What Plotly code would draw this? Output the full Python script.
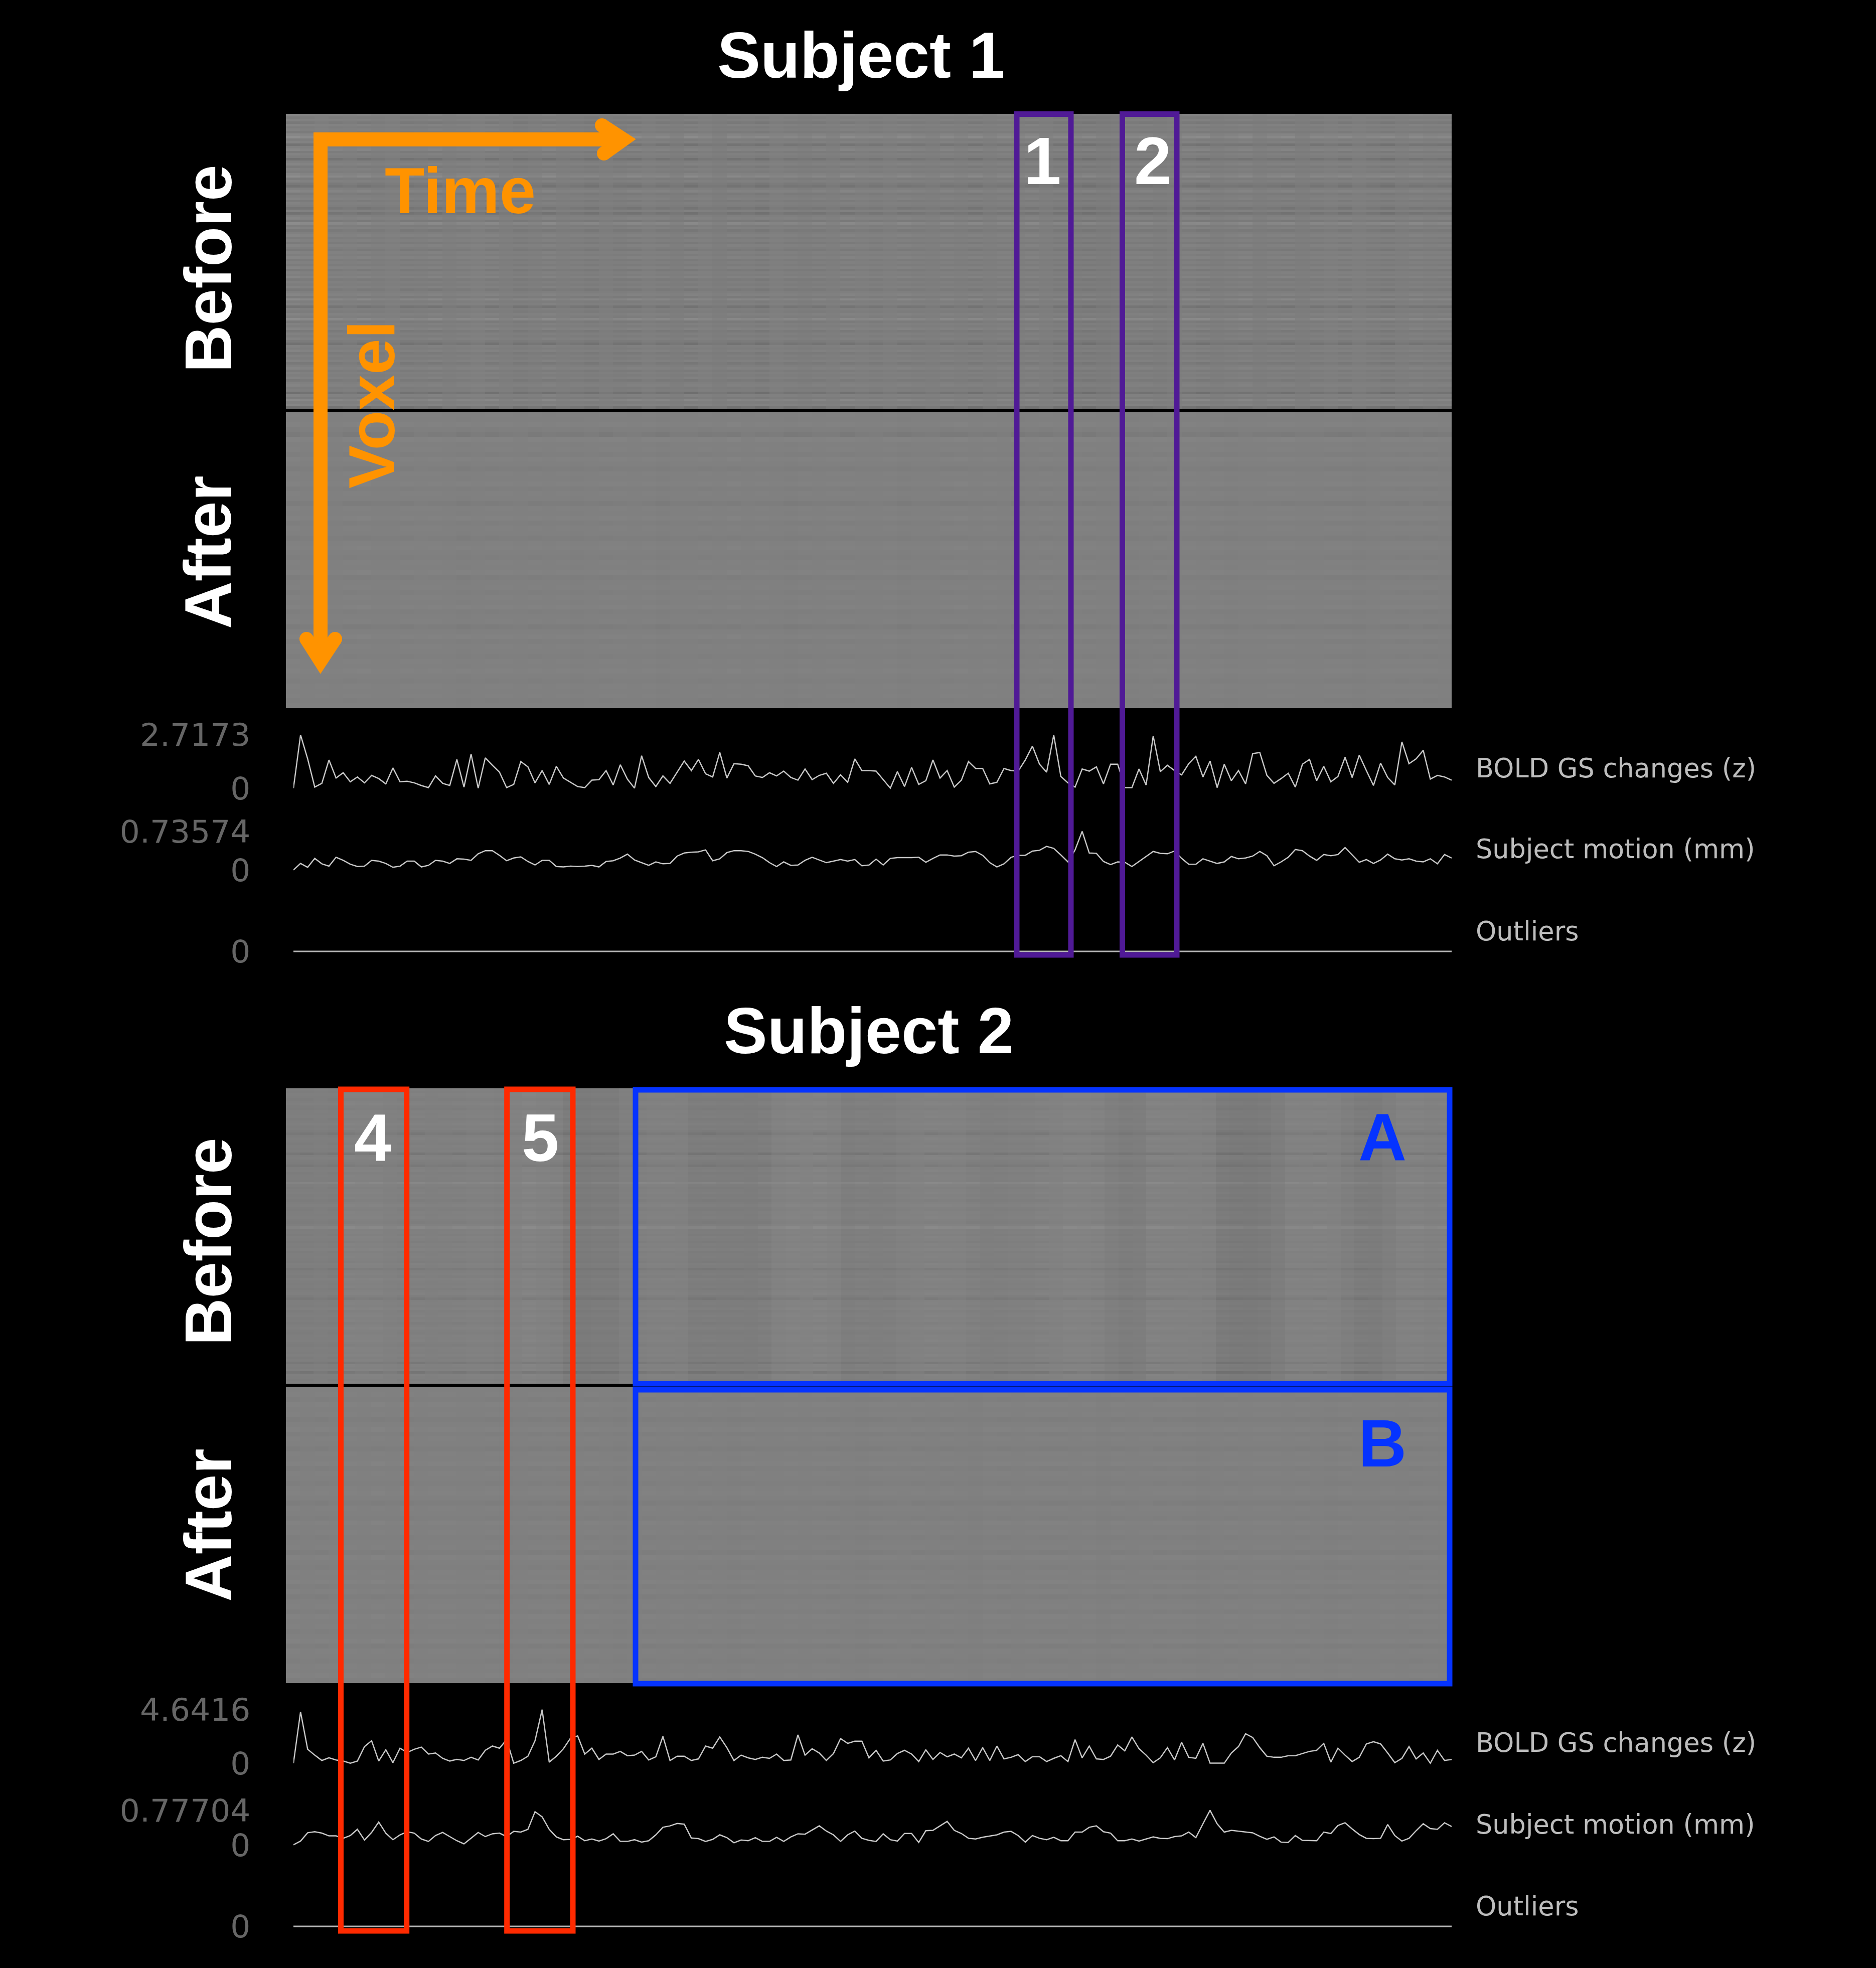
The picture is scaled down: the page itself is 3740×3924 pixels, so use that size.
import plotly.graph_objects as go

W, H = 3740, 3924

# ---- chart data (percent of the panel's peak) ----
gs_s1_max = 2.7173
motion_s1_max = 0.73574
gs_s2_max = 4.6416
motion_s2_max = 0.77704

gs_s1 = [0,100,55,2,9,53,19,29,12,21,10,24,18,8,38,12,13,10,5,1,23,9,5,54,2,64,0,57,43,30,1,7,50,40,10,33,7,41,19,11,3,1,15,16,33,6,44,17,0,61,20,3,23,9,30,51,33,54,27,21,67,19,46,45,42,23,20,29,23,32,20,15,
 36,16,24,28,9,25,11,55,33,33,32,16,0,31,3,39,7,14,53,19,33,2,15,50,37,37,8,11,37,33,32,53,79,45,30,100,22,10,2,36,32,40,8,45,45,1,1,36,6,98,31,43,33,25,46,60,21,51,1,45,14,33,8,65,67,24,9,18,28,2,45,54,14,41,12,22,58,20,62,33,5,47,20,6,87,46,55,71,17,24,21,15]
motion_s1 = [0,17,7,30,16,10,33,25,15,9,10,25,23,17,7,10,23,23,8,12,25,23,17,29,28,25,42,50,50,38,24,31,34,22,13,25,25,9,8,10,9,10,12,8,22,24,31,41,26,19,12,21,16,17,36,44,46,47,52,24,29,45,50,50,48,41,32,19,9,21,12,13,
 25,33,26,19,23,27,23,27,11,13,28,13,30,32,32,32,33,20,30,39,39,36,37,46,48,38,19,8,16,33,38,38,49,51,61,56,39,21,52,100,44,43,22,14,21,20,9,22,34,48,43,42,49,30,15,15,29,23,17,21,35,29,31,36,48,37,11,21,33,53,50,36,25,40,37,40,58,39,20,27,17,26,41,29,26,29,23,21,29,16,40,31]
gs_s2 = [0,96,26,15,5,10,6,4,0,4,31,42,4,25,1,28,20,26,30,17,19,9,4,7,5,11,6,24,32,28,44,0,5,13,42,100,2,13,27,47,51,17,28,7,17,17,22,14,15,22,6,12,50,5,13,13,5,8,32,28,49,29,5,15,10,7,11,9,17,5,6,53,
 15,27,19,5,18,46,37,41,41,10,24,4,6,18,24,17,3,25,7,20,12,17,10,28,5,29,5,32,8,11,16,3,12,12,3,9,14,3,44,10,32,8,7,13,34,23,49,27,15,1,10,29,6,39,11,9,37,0,0,0,19,31,55,48,29,13,11,11,14,14,18,22,24,37,2,28,15,3,11,36,40,36,19,1,9,31,8,19,0,24,5,7]
motion_s2 = [0,11,35,38,34,26,26,19,27,45,14,36,66,34,15,29,38,34,17,10,27,36,24,12,3,19,36,24,32,34,24,39,37,45,96,81,45,23,15,16,25,12,17,11,18,32,10,10,15,8,12,29,51,55,62,60,20,18,10,16,29,21,6,14,12,21,10,10,22,10,23,32,
 31,43,55,40,29,10,29,40,19,13,10,32,15,11,33,33,7,41,42,55,68,42,33,19,17,22,26,29,37,39,27,8,27,19,15,22,12,12,37,37,51,55,38,34,12,12,17,11,17,23,19,18,24,26,37,21,61,100,61,37,42,40,38,35,25,16,23,8,7,27,13,12,12,37,33,56,64,46,30,19,18,19,59,27,11,19,41,61,47,45,64,53]
outliers_s1 = [0] * len(gs_s1)
outliers_s2 = [0] * len(gs_s2)

gs_tick_s1 = ["0", "2.7173"]
motion_tick_s1 = ["0", "0.73574"]
gs_tick_s2 = ["0", "4.6416"]
motion_tick_s2 = ["0", "0.77704"]
trace_labels = ["BOLD GS changes (z)", "Subject motion (mm)", "Outliers"]

# ---- carpet gray levels: estimated along rows, along time bins, and the row contrast of each time bin ----
s1_before_center, s1_before_level, s1_before_gain = 124, 126, 0.62
s1_before_rows = [130,120,127,117,129,121,126,119,132,140,122,128,110,125,131,119,127,122,108,124,129,118,126,121,130,139,120,127,116,109,125,131,118,124,128,119,126,122,112,127,109,125,130,117,137,121,128,116,124,129,120,126,118,128,123,116,127,122,129,119,
 125,120,128,117,126,123,130,118,125,121,127,116,124,129,119,136,122,127,110,124,120,128,123,138,118,126,122,129,117,125,121,127,119,108,126,122,128,118,125,121,127,116,124,129,119,126,122,127,117,125,128,120,123,106,127,119,135,124,130,107]
s1_before_cols = [2,1,2,1,1,1,0,1,0,0,1,0,1,2,1,0,-1,0,1,0,0,-1,0,-1,0,1,0,-1,0,1,-1,0,0,-1,1,0,-1,0,0,1,1,0,1,1,0,0,1,0,0,0,1,0,1,0,-1,-2,-2,-2,-1,0,0,-1,0,1,0,-1,0,1,-1,0,0,-1,0,1,0,1,0,-1,0,1,0,0]
s1_before_tex = [1.5,1.2,0.6,1.1,0.7,1.3,0.8,0.5,1.2,0.9,1.4,0.6,1.0,0.7,1.3,0.5,1.1,0.8,1.4,0.6,0.9,1.2,0.5,1.0,1.3,0.7,1.1,0.6,1.4,0.8,0.5,1.2,0.9,1.3,0.6,1.0,0.7,1.1,0.5,1.3,0.8,1.0,0.6,1.2,0.9,0.5,1.1,0.7,1.3,0.6,1.0,0.8,1.2,0.5,1.1,0.9,1.3,0.7,0.6,1.0,1.2,0.8,0.5,1.1,1.4,0.7,0.9,1.2,0.6,1.0,1.3,0.5,1.1,0.8,1.3,0.6,1.0,1.4,0.7,1.2,0.9,1.1]
s1_after_center, s1_after_level, s1_after_gain = 127, 127.5, 1.0
s1_after_rows = [128,127,129,126,122,130,127,128,126,129,127,125,128,127,129,126,128,127,124,128,127,129,126,128,127,125,128,129,127,126,128,127,129,125,127,128,126,128,127,129,126,127,128,124,127,129,126,128,127,126,128,127,129,127,126,128,127,128,126,127]
s1_after_cols = [0,0,0.5,0,0,0.5,0,0,0,0.5,0,0,-0.5,0,0,0.5,0,0,0,0,-0.5,0,0,0.5,0,0,-0.5,0,0,0,0,0.5,0,0,0,-0.5,0,0,0.5,0,0,0,0,-0.5,0,0,0,0.5,0,0,0,-0.5,0,0,0,0.5,0,0,0,-0.5,0,0,0.5,0,0,0,-0.5,0,0,0,0.5,0,0,0,0,-0.5,0,0,0,0.5,0,0]
s1_after_tex = [1.2,0.8,1.0,0.6,1.1,1.3,0.7,0.9,1.2,0.6,1.0,0.8,1.3,0.7,1.1,0.9,0.6,1.2,0.8,1.0,1.1,0.7,1.3,0.9,0.6,1.0,1.2,0.8,0.7,1.1,0.9,1.3,0.6,1.0,0.8,1.2,1.1,0.7,0.9,1.3,0.8,0.6,1.0,1.2,0.9,0.7,1.1,1.3,0.8,1.0,0.6,1.2,0.9,1.1,0.7,1.0,1.3,0.8,0.6,1.1,0.9,1.2,0.7,1.0,0.8,1.3,1.1,0.6,0.9,1.0,1.2,0.7,0.8,1.1,1.3,0.9,0.6,1.0,1.2,0.8,1.1,0.9]
s2_before_center, s2_before_level, s2_before_gain = 125, 127, 0.65
s2_before_rows = [127,125,128,126,124,127,129,125,123,127,126,128,124,126,129,125,127,123,116,125,128,126,124,127,125,126,114,127,129,125,123,117,126,128,124,127,126,125,135,127,124,126,128,125,127,123,126,129,125,124,127,126,128,125,123,127,136,125,126,124,
 128,126,123,127,125,129,124,126,127,125,123,128,126,118,125,127,124,129,126,125,127,123,126,128,124,117,126,127,125,129,124,126,128,125,127,123,126,129,125,124,127,126,128,125,123,127,126,125,128,124,126,116,127,125,129,113,128,126,124,127]
s2_before_cols = [-2,-2,-1,-2,2,2,2,1,0,0,0,0,0,1,1,0,2,3,2,1,-4,-5,-4,-4,0,0,1,1,1,-3,-3,-3,-3,-3,-2,2,3,3,3,2,-2,-1,-1,-1,1,2,2,2,2,0,-1,-1,0,0,1,2,3,3,2,-1,-3,-2,2,2,2,2,1,-5,-6,-6,-5,-2,2,2,2,2,-1,-4,-4,-1,2,2,1,1]
s2_before_tex = [0.9,1.1,0.7,1.0,1.2,0.8,1.1,0.6,1.0,1.3,0.7,0.9,1.2,0.8,1.1,1.0,0.6,1.3,0.9,1.2,1.3,0.8,1.1,1.0,0.7,1.2,0.9,1.0,0.6,1.1,1.3,0.8,1.0,0.7,1.2,0.9,1.1,0.6,1.3,0.8,1.0,1.2,0.7,1.1,0.9,0.6,1.3,1.0,0.8,1.2,0.7,1.1,0.9,1.0,1.3,0.6,1.1,0.8,1.2,0.9,1.0,0.7,1.3,1.1,0.8,0.6,1.0,1.3,1.2,0.9,1.1,0.7,1.0,0.8,1.2,0.6,1.1,1.3,0.9,0.7,1.0,1.2,0.9,1.1]
s2_after_center, s2_after_level, s2_after_gain = 127, 127.5, 1.0
s2_after_rows = [127,128,126,129,127,128,125,127,129,126,128,127,125,128,127,129,126,128,127,126,128,129,127,125,128,127,126,129,127,128,126,127,128,125,129,127,126,128,127,129,126,128,125,127,128,126,129,127,128,126,127,129,125,128,127,126,128,127,129,126]
s2_after_cols = [0,0,0,0.5,0,0,0.5,0,0,0,0,0.5,0,0,0,-0.5,0,0,0.5,0,0,0,0,-0.5,0,0,0,0.5,0,0,0,-0.5,0,0,0,0.5,0,0,0,0,-0.5,0,0,0.5,0,0,0,0,-0.5,0,0,0,0.5,0,0,0,0,-0.5,0,0,0.5,0,0,0,-0.5,0,0,0,0,0.5,0,0,0,-0.5,0,0,0,0.5,0,0,0,0]
s2_after_tex = [1.1,0.8,1.2,0.7,1.0,0.9,1.3,0.6,1.1,0.8,1.0,1.2,0.7,0.9,1.3,1.0,0.6,1.2,0.8,1.1,0.9,1.3,0.7,1.0,0.8,1.2,0.6,1.1,0.9,1.3,0.7,1.0,1.2,0.8,0.6,1.1,0.9,1.0,1.3,0.7,0.8,1.2,1.0,0.6,1.1,0.9,1.3,0.8,0.7,1.0,1.2,0.6,0.9,1.1,1.3,0.8,1.0,0.7,1.2,0.9,0.6,1.1,1.0,1.3,0.8,0.7,1.2,0.9,1.0,1.1,0.6,1.3,0.8,1.0,1.2,0.7,0.9,1.1,0.6,1.3,1.0,0.8]

# ---- page geometry (pixels) ----
def fx(x): return x / W
def fy(y): return 1 - y / H

HM_L, HM_R = 570, 2894
LN_L, LN_R = 585, 2894
TICK_COLOR = "#666666"
LABEL_COLOR = "#bdbdbd"
LINE_COLOR = "#c8c8c8"

fig = go.Figure()
layout = dict(
    width=W, height=H, margin=dict(l=0, r=0, t=0, b=0, autoexpand=False),
    paper_bgcolor="black", plot_bgcolor="black", showlegend=False,
    shapes=[], annotations=[],
)
axis_no = [0]

def new_axes(x0, x1, y0, y1, xr, yr, tickvals=None, ticktext=None, reverse=False):
    axis_no[0] += 1
    n = axis_no[0]
    s = "" if n == 1 else str(n)
    layout["xaxis" + s] = dict(domain=[fx(x0), fx(x1)], range=xr, visible=False, anchor="y" + s)
    ya = dict(domain=[fy(y1), fy(y0)], range=yr[::-1] if reverse else yr, anchor="x" + s,
              showgrid=False, zeroline=False, showline=False)
    if tickvals is None:
        ya["visible"] = False
    else:
        ya.update(tickmode="array", tickvals=tickvals, ticktext=ticktext, ticks="outside",
                  ticklen=72, tickcolor="black", tickwidth=1,
                  tickfont=dict(family="DejaVu Sans", size=63, color=TICK_COLOR))
    layout["yaxis" + s] = ya
    return "x" + s, "y" + s

def carpet(center, level, gain, rows, cols, tex, y0, y1):
    xa, ya = new_axes(HM_L, HM_R, y0, y1, [-0.5, len(cols) - 0.5], [-0.5, len(rows) - 0.5], reverse=True)
    z = [[level + (r - center) * t * gain + c for c, t in zip(cols, tex)] for r in rows]
    fig.add_trace(go.Heatmap(z=z, xaxis=xa, yaxis=ya, zmin=0, zmax=255, showscale=False, hoverinfo="skip",
                             colorscale=[[0, "#000000"], [1, "#ffffff"]]))

def series(pct, peak, y0, y1, ticks):
    # a 5 % head-room on the axis keeps the stroke at 0 and at the peak from being clipped
    pad = 0.05 * (y1 - y0)
    xa, ya = new_axes(LN_L, LN_R, y0 - pad, y1 + pad, [0, len(pct) - 1], [-0.05 * peak, 1.05 * peak], [0, peak], ticks)
    fig.add_trace(go.Scatter(x=list(range(len(pct))), y=[p * peak / 100 for p in pct], mode="lines",
                             xaxis=xa, yaxis=ya, hoverinfo="skip",
                             line=dict(color=LINE_COLOR, width=2.5)))

def outliers(vals, y0, y1):
    pad = 0.1 * (y1 - y0)
    xa, ya = new_axes(LN_L, LN_R, y0, y1 + pad, [0, len(vals) - 1], [-0.1, 1], [0], ["0"])
    fig.add_trace(go.Scatter(x=list(range(len(vals))), y=vals, mode="lines", xaxis=xa, yaxis=ya,
                             hoverinfo="skip", line=dict(color="#b4b4b4", width=3)))

carpet(s1_before_center, s1_before_level, s1_before_gain, s1_before_rows, s1_before_cols, s1_before_tex, 227, 815)
carpet(s1_after_center, s1_after_level, s1_after_gain, s1_after_rows, s1_after_cols, s1_after_tex, 822, 1412)
carpet(s2_before_center, s2_before_level, s2_before_gain, s2_before_rows, s2_before_cols, s2_before_tex, 2170, 2759)
carpet(s2_after_center, s2_after_level, s2_after_gain, s2_after_rows, s2_after_cols, s2_after_tex, 2766, 3356)
series(gs_s1, gs_s1_max, 1465.4, 1571.5, gs_tick_s1)
series(motion_s1, motion_s1_max, 1657.6, 1734.7, motion_tick_s1)
outliers(outliers_s1, 1830, 1897)
series(gs_s2, gs_s2_max, 3408.9, 3515.6, gs_tick_s2)
series(motion_s2, motion_s2_max, 3609.6, 3678.5, motion_tick_s2)
outliers(outliers_s2, 3774, 3841)

def text(s, x, y, size, color, bold=False, angle=0, family="Liberation Sans", anchor="center"):
    layout["annotations"].append(dict(
        text=s, x=fx(x), y=fy(y), xref="paper", yref="paper", xanchor=anchor, yanchor="middle",
        showarrow=False, textangle=angle,
        font=dict(family=family, size=size, color=color, weight=700 if bold else 400)))

def box(x0, y0, x1, y1, color, w=11):
    layout["shapes"].append(dict(type="rect", xref="paper", yref="paper",
        x0=fx(x0), x1=fx(x1), y0=fy(y0), y1=fy(y1), line=dict(color=color, width=w), fillcolor="rgba(0,0,0,0)"))

PURPLE, RED, BLUE, ORANGE = "#501A96", "#FF2A00", "#0533FF", "#FF9300"
box(2027, 227.5, 2135, 1904, PURPLE)
box(2237.5, 227.5, 2346, 1904, PURPLE)
box(679.5, 2172, 810.7, 3850, RED)
box(1010.7, 2172, 1142, 3850, RED)
box(1267, 2173, 2890, 2759, BLUE)
box(1267, 2771, 2890, 3357, BLUE)

def polyline(points, color, w):
    d = "M " + " L ".join(f"{fx(x)} {fy(y)}" for x, y in points)
    layout["shapes"].append(dict(type="path", path=d, xref="paper", yref="paper", line=dict(color=color, width=w)))

def dot(x, y, r, color):
    layout["shapes"].append(dict(type="circle", xref="paper", yref="paper",
        x0=fx(x - r), x1=fx(x + r), y0=fy(y + r), y1=fy(y - r), fillcolor=color, line=dict(width=0)))

polyline([(1243, 278), (639, 278), (639, 1318)], ORANGE, 28)
polyline([(1200, 250), (1243, 278), (1204, 306)], ORANGE, 28)
polyline([(611, 1274), (639, 1318), (668, 1274)], ORANGE, 28)
for x, y in [(1200, 250), (1204, 306), (611, 1274), (668, 1274), (639, 278)]:
    dot(x, y, 14, ORANGE)

# titles and panel words
text("Subject 1", 1717, 110, 129, "white", True)
text("Subject 2", 1732, 2055, 130, "white", True)
for yc, word in [(536, "Before"), (1101, "After"), (2476, "Before"), (3041, "After")]:
    text(word, 415, yc, 131, "white", True, -90)
text("Time", 917, 380, 130, ORANGE, True)
text("Voxel", 741, 807, 129, ORANGE, True, -90)
text("1", 2078, 321, 134, "white", True)
text("2", 2298, 321, 134, "white", True)
text("4", 743, 2268, 134, "white", True)
text("5", 1077, 2268, 134, "white", True)
text("A", 2756, 2268, 133, BLUE, True)
text("B", 2756, 2878, 133, BLUE, True)

for yc, lab in zip([1531, 1693, 1856, 3474, 3637, 3800], trace_labels * 2):
    text(lab, 2940, yc, 52.5, LABEL_COLOR, family="DejaVu Sans", anchor="left")

fig.update_layout(**layout)
fig.write_html("out.html", post_script="document.body.style.margin='0';document.body.style.background='black';",
               config={"displayModeBar": False})
